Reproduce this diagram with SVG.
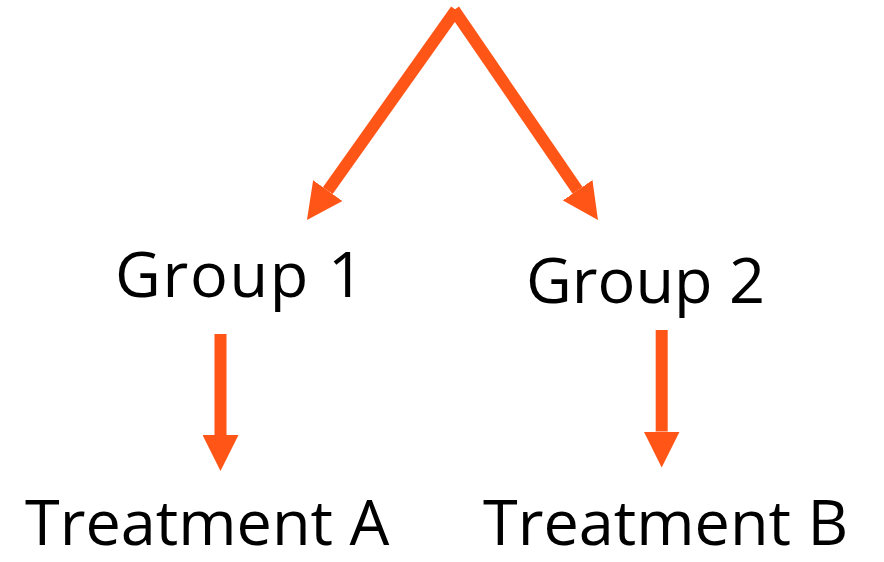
<svg xmlns="http://www.w3.org/2000/svg" width="884" height="562" viewBox="0 0 884 562">
  <style>
    .label { font-family: "Open Sans", "Liberation Sans", sans-serif; font-size: 63px; fill: #000; }
    .edge { stroke: #FF5517; stroke-width: 12; fill: none; stroke-linecap: butt; marker-end: url(#head); }
  </style>
  <defs>
    <marker id="head" markerUnits="userSpaceOnUse" markerWidth="36" markerHeight="36" viewBox="0 -18 36 36" refX="0" refY="0" orient="auto">
      <path d="M0,-18 L36,0 L0,18 Z" fill="#FF5517"/>
    </marker>
  </defs>

  <g id="connectors">
    <line class="edge" x1="456" y1="10" x2="327.8" y2="190.6"/>
    <line class="edge" x1="454" y1="10" x2="577.6" y2="190.3"/>
    <line class="edge" x1="220.5" y1="334" x2="220.5" y2="435"/>
    <line class="edge" x1="661.7" y1="330" x2="661.7" y2="431.5"/>
  </g>

  <g id="group1">
    <text class="label" x="115" y="297" textLength="249">Group 1</text>
  </g>
  <g id="group2">
    <text class="label" x="526" y="303">Group 2</text>
  </g>
  <g id="treatmentA">
    <text class="label" x="25" y="545">Treatment A</text>
  </g>
  <g id="treatmentB">
    <text class="label" x="483" y="545">Treatment B</text>
  </g>
</svg>
